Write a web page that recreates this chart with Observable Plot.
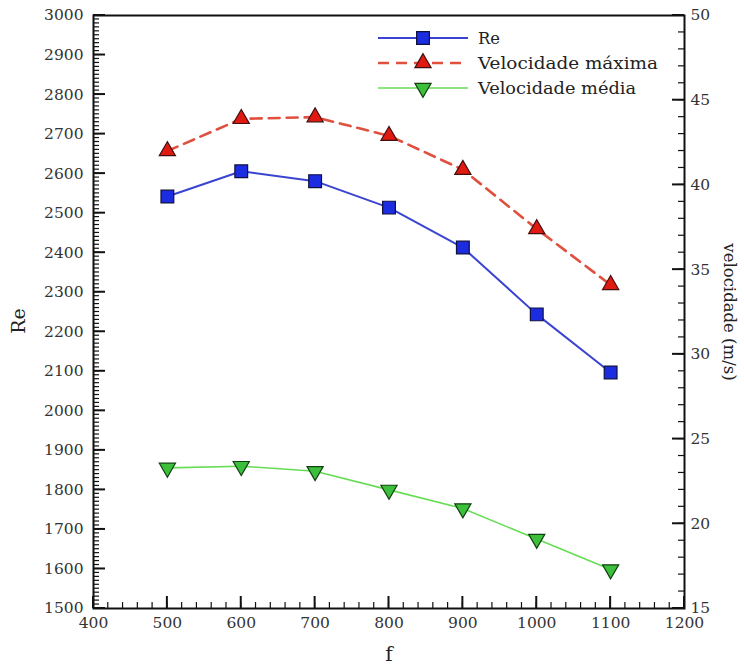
<!DOCTYPE html>
<html><head><meta charset="utf-8">
<script src="https://cdn.jsdelivr.net/npm/d3@7"></script>
<script src="https://cdn.jsdelivr.net/npm/@observablehq/plot@0.6"></script>
<style>
body{margin:0;background:#fff;}
#wrap{position:relative;width:744px;height:666px;}
</style></head><body><div id="wrap"></div>
<script>
// ---- data ----
const freq = [500, 600, 700, 800, 900, 1000, 1100];
const reValues = [2542, 2606, 2581, 2514, 2413, 2244, 2097];
const velMax = [42.0, 43.9, 44.0, 42.9, 40.9, 37.4, 34.1];
const velMed = [23.3, 23.4, 23.1, 22.0, 20.9, 19.1, 17.3];
const seriesNames = ["Re", "Velocidade máxima", "Velocidade média"];
const xTicks = [400, 500, 600, 700, 800, 900, 1000, 1100, 1200];
const reTicks = [1500, 1600, 1700, 1800, 1900, 2000, 2100, 2200, 2300, 2400, 2500, 2600, 2700, 2800, 2900, 3000];
const velTicks = [15, 20, 25, 30, 35, 40, 45, 50];
const xLabel = "f", yLabel = "Re", y2Label = "velocidade (m/s)";

const FONT = "DejaVu Serif";
const W = 744, H = 666, ML = 93, MR = 60, MT = 15, MB = 58;
const MAJ = 12, MIN = 6;

// ---- secondary axis mapping ----
const reDom = [1500, 3000], velDom = [15, 50], xDom = [400, 1200];
const toRe = v => reDom[0] + (v - velDom[0]) * (reDom[1] - reDom[0]) / (velDom[1] - velDom[0]);
const fromRe = r => velDom[0] + (r - reDom[0]) * (velDom[1] - velDom[0]) / (reDom[1] - reDom[0]);
const rows = freq.map((x, i) => ({f: x, re: reValues[i], vmax: toRe(velMax[i]), vmed: toRe(velMed[i])}));

const triDown = {draw(ctx, size) {
  const s = Math.sqrt(4 * size / Math.sqrt(3)), h = s * Math.sqrt(3) / 2;
  ctx.moveTo(0, 2 * h / 3); ctx.lineTo(-s / 2, -h / 3); ctx.lineTo(s / 2, -h / 3); ctx.closePath();
}};
const triUp = {draw(ctx, size) {
  const s = Math.sqrt(4 * size / Math.sqrt(3)), h = s * Math.sqrt(3) / 2;
  ctx.moveTo(0, -2 * h / 3); ctx.lineTo(-s / 2, h / 3); ctx.lineTo(s / 2, h / 3); ctx.closePath();
}};
const styles = [
  {key: "re", line: "#3a44d0", dash: null, lw: 2, sym: d3.symbolSquare, r: 7.2, fill: "#1c2ce0", mstroke: "#101040"},
  {key: "vmax", line: "#e0503f", dash: "11,7", lw: 2.6, sym: triUp, r: 6, fill: "#e01a10", mstroke: "#401010"},
  {key: "vmed", line: "#66dd55", dash: null, lw: 1.6, sym: triDown, r: 6, fill: "#3cc03c", mstroke: "#104010"}
];

const minorX = d3.range(400, 1201, 20);
const minorRe = d3.range(1500, 3001, 10);
const minorVel = d3.range(15, 51, 1).map(toRe);
const velTicksRe = velTicks.map(toRe);

const tickTxt = {fill: "#333", fontFamily: FONT, fontSize: 15.5, label: null};
const marks = [
  Plot.frame({stroke: "#111", strokeWidth: 2, fill: "none"}),
  Plot.axisX({ticks: xTicks, tickSize: 0, tickPadding: 8, tickFormat: d => String(d), ...tickTxt}),
  Plot.axisY({ticks: reTicks, tickSize: 0, tickPadding: 10, tickFormat: d => String(d), ...tickTxt}),
  Plot.axisY({anchor: "right", ticks: velTicksRe, tickSize: 0, tickPadding: 6,
    tickFormat: d => String(Math.round(fromRe(d))), ...tickTxt}),
  Plot.text([xLabel], {frameAnchor: "bottom", dy: 46, lineAnchor: "middle", textAnchor: "middle", text: d => d, fontSize: 20, fill: "#222", fontFamily: FONT}),
  Plot.text([yLabel], {frameAnchor: "left", dx: -75, dy: 9, rotate: -90, lineAnchor: "middle", textAnchor: "middle", text: d => d, fontSize: 19, fill: "#222", fontFamily: FONT}),
  Plot.text([y2Label], {frameAnchor: "right", dx: 45, rotate: 90, lineAnchor: "middle", textAnchor: "middle", text: d => d, fontSize: 16.5, fill: "#222", fontFamily: FONT})
];
for (const s of styles) {
  marks.push(Plot.line(rows, {x: "f", y: s.key, stroke: s.line, strokeWidth: s.lw, strokeDasharray: s.dash}));
  marks.push(Plot.dot(rows, {x: "f", y: s.key, symbol: s.sym, r: s.r, fill: s.fill, stroke: s.mstroke, strokeWidth: 1.2}));
}

const chart = Plot.plot({
  width: W, height: H, marginLeft: ML, marginRight: MR, marginTop: MT, marginBottom: MB,
  x: {domain: xDom}, y: {domain: reDom},
  style: {fontFamily: FONT, fontSize: "15px", background: "#fff"},
  marks
});
document.getElementById("wrap").appendChild(chart);

// ---- inward ticks, positioned with the plot's scales ----
const fbX = d3.scaleLinear(xDom, [ML, W - MR]);
const fbY = d3.scaleLinear(reDom, [H - MB, MT]);
let sx = null, sy = null;
try { sx = chart.scale("x"); sy = chart.scale("y"); } catch (e) {}
const X = v => { const p = sx && sx.apply ? +sx.apply(v) : NaN; return Number.isFinite(p) ? p : fbX(v); };
const Y = v => { const p = sy && sy.apply ? +sy.apply(v) : NaN; return Number.isFinite(p) ? p : fbY(v); };
const tg = d3.select(chart).append("g").attr("aria-label", "inward ticks");
const x0 = X(xDom[0]), x1 = X(xDom[1]), y0 = Y(reDom[0]);
const addTicks = (vals, len, sw, kind) => {
  for (const d of vals) {
    const ln = tg.append("line").attr("stroke", "#111").attr("stroke-width", sw);
    if (kind === "x") ln.attr("x1", X(d)).attr("x2", X(d)).attr("y1", y0).attr("y2", y0 - len);
    else if (kind === "left") ln.attr("x1", x0).attr("x2", x0 + len).attr("y1", Y(d)).attr("y2", Y(d));
    else ln.attr("x1", x1).attr("x2", x1 - len).attr("y1", Y(d)).attr("y2", Y(d));
  }
};
addTicks(minorX, MIN, 1.2, "x");
addTicks(xTicks, MAJ, 2, "x");
addTicks(minorRe, MIN, 1.2, "left");
addTicks(reTicks, MAJ, 2, "left");
addTicks(minorVel, MIN, 1.2, "right");
addTicks(velTicksRe, MAJ, 2, "right");

// ---- legend, drawn inside the chart's svg ----
const lg = d3.select(chart).append("g").attr("aria-label", "legend").attr("font-family", FONT);
const legX0 = 378, legX1 = 468, legY0 = 38, legStep = 25, legTextX = 478;
const legWidths = [22, 180, 158];
styles.forEach((s, i) => {
  const y = legY0 + i * legStep;
  lg.append("line").attr("x1", legX0).attr("x2", legX1).attr("y1", y).attr("y2", y)
    .attr("stroke", s.line).attr("stroke-width", s.lw).attr("stroke-dasharray", s.dash);
  lg.append("path").attr("transform", `translate(${(legX0 + legX1) / 2},${y})`)
    .attr("d", d3.symbol(s.sym, s.r * s.r * Math.PI)())
    .attr("fill", s.fill).attr("stroke", s.mstroke).attr("stroke-width", 1.2);
  lg.append("text").attr("x", legTextX).attr("y", y).attr("dy", "0.35em")
    .attr("text-anchor", "start")
    .attr("font-size", 17).attr("fill", "#222")
    .attr("textLength", legWidths[i]).attr("lengthAdjust", "spacingAndGlyphs")
    .text(seriesNames[i]);
});
</script></body></html>
